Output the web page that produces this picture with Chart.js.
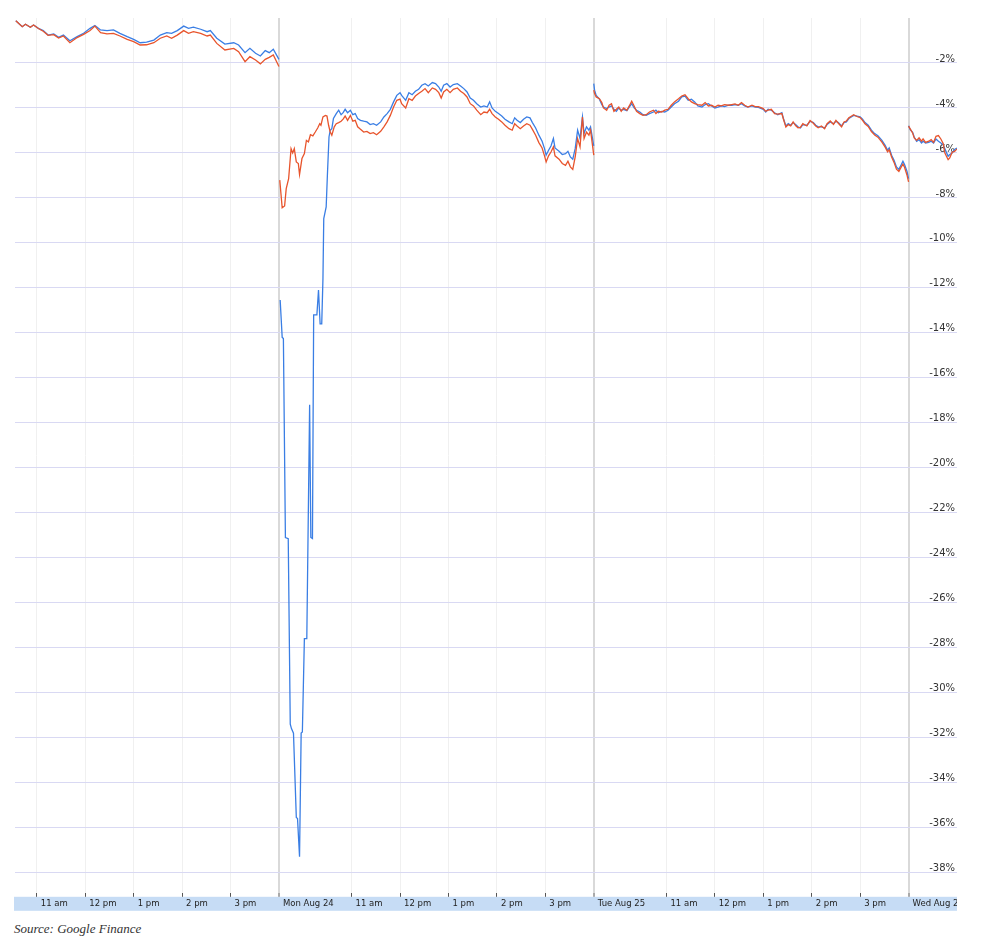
<!DOCTYPE html>
<html>
<head>
<meta charset="utf-8">
<script src="https://cdn.jsdelivr.net/npm/chart.js@4.4.1/dist/chart.umd.min.js"></script>
<style>
  html, body { margin: 0; padding: 0; background: #fff; }
  #wrap { position: relative; width: 986px; height: 939px; }
  #chart { position: absolute; left: 0; top: 0; }
  #source { position: absolute; left: 14px; top: 921px; font: italic 13px 'Liberation Serif', serif; color: #333; }
</style>
</head>
<body>
<div id="wrap">
  <canvas id="chart" width="957" height="911"></canvas>
  <div id="source">Source: Google Finance</div>
</div>
<script>
// x values are minutes since the 9:30 open of each trading day (390 min per session)
const sessionLength = 390

const tickValues = [90, 150, 210, 270, 330, 390, 480, 540, 600, 660, 720, 780, 870, 930, 990, 1050, 1110, 1170]
const tickLabels = ['11 am', '12 pm', '1 pm', '2 pm', '3 pm', 'Mon Aug 24', '11 am', '12 pm', '1 pm', '2 pm', '3 pm',
  'Tue Aug 25', '11 am', '12 pm', '1 pm', '2 pm', '3 pm', 'Wed Aug 26']
const dayTicks = [390, 780, 1170]

const yTicks = [-2, -4, -6, -8, -10, -12, -14, -16, -18, -20, -22, -24, -26, -28, -30, -32, -34, -36, -38]

// Fri Aug 21
const friTime = [64, 72, 76, 82, 86, 92, 98, 104, 111, 117, 123, 131, 140, 148, 156, 162, 169, 177, 185, 193, 202, 210, 218, 226,
  235, 243, 251, 257, 264, 272, 278, 284, 293, 301, 305, 313, 323, 334, 340, 348, 354, 361, 367, 373, 378, 383, 390]
const friBlue = [-0.12, -0.39, -0.28, -0.41, -0.31, -0.46, -0.56, -0.76, -0.71, -0.86, -0.76, -1.01, -0.83, -0.68, -0.46,
  -0.33, -0.53, -0.56, -0.53, -0.68, -0.83, -0.95, -1.10, -1.07, -0.98, -0.76, -0.65, -0.68, -0.56, -0.36,
  -0.46, -0.41, -0.50, -0.61, -0.56, -0.90, -1.16, -1.10, -1.20, -1.54, -1.35, -1.57, -1.69, -1.45, -1.54, -1.39, -1.84]
const friRed = [-0.12, -0.39, -0.28, -0.41, -0.31, -0.47, -0.59, -0.77, -0.74, -0.89, -0.80, -1.10, -0.87, -0.73, -0.56,
  -0.36, -0.65, -0.71, -0.68, -0.80, -0.95, -1.05, -1.20, -1.19, -1.10, -0.90, -0.80, -0.90, -0.76, -0.56,
  -0.68, -0.61, -0.68, -0.80, -0.76, -1.13, -1.42, -1.35, -1.50, -1.94, -1.72, -1.87, -2.04, -1.84, -1.75, -1.64, -2.16]

// Mon Aug 24, first hour (blue crash)
const monOpenBlueTime = [1.5, 4, 5.5, 8, 11.5, 14, 15.5, 18, 21.5, 23, 25.5, 27.5, 29, 31.5, 34.5, 38, 39.5, 41.5, 43, 47,
  49, 51, 53, 54.5, 55.5, 58.5, 60, 62, 63.5, 65.5, 67.5, 71, 74, 77, 79.5, 82, 85, 88.5, 91.5, 94.5, 97.5]
const monOpenBlue = [-12.54, -14.2, -14.25, -23.1, -23.15, -31.4, -31.6, -31.8, -35.55, -35.6, -37.3, -31.8, -31.75, -27.6, -27.6,
  -17.2, -23.1, -23.15, -13.2, -13.2, -12.1, -13.6, -13.6, -11.6, -8.92, -8.4, -7.0, -5.29, -4.99, -4.92,
  -4.47, -4.25, -4.10, -4.30, -4.21, -4.06, -4.21, -4.10, -4.30, -4.25, -4.47]
const monOpenRedTime = [1, 4, 7, 9, 12, 15, 17, 19, 21.5, 24, 25.5, 28.5, 31.5, 34, 36.5, 39, 42, 45, 48, 50.5,
  52, 54.5, 57.5, 59.5, 61.5, 63.5, 65.5, 68.5, 71, 74, 77, 79.5, 82, 85, 88.5, 91.5, 94.5, 97.5]
const monOpenRed = [-7.21, -8.44, -8.36, -7.59, -7.14, -5.81, -6.0, -5.81, -6.4, -6.47, -6.96, -6.25, -6.03, -5.44, -5.51,
  -5.19, -5.24, -5.07, -4.89, -4.70, -4.77, -4.40, -4.33, -4.36, -4.77, -5.07, -5.21, -4.84, -4.70, -4.65,
  -4.59, -4.50, -4.36, -4.55, -4.33, -4.59, -4.55, -4.84]

// Mon Aug 24, rest of the session
const monTime = [101, 105, 109, 113, 117, 121, 126, 130, 134, 138, 142, 146, 150, 152, 157, 161, 165, 169, 173, 177,
  181, 185, 190, 194, 198, 201, 204, 208, 212, 216, 221, 225, 229, 233, 237, 241, 245, 250, 254, 258,
  261, 264, 268, 272, 276, 280, 285, 289, 292, 295, 299, 303, 307, 311, 314, 318, 322, 326, 329, 331,
  334, 337, 340, 342, 347, 351, 355, 358, 361, 364, 367, 370, 373, 376, 378, 381, 384, 386, 390]
const monBlue = [-4.55, -4.59, -4.62, -4.74, -4.70, -4.77, -4.62, -4.40, -4.25, -4.06, -3.73, -3.44, -3.32, -3.44, -3.66,
  -3.32, -3.41, -3.26, -3.17, -2.99, -2.92, -3.02, -2.87, -2.92, -3.07, -3.26, -2.99, -2.92, -3.07, -2.96,
  -2.92, -3.02, -3.14, -3.29, -3.56, -3.66, -3.81, -3.96, -3.91, -3.96, -3.73, -4.00, -4.15, -4.25, -4.36,
  -4.50, -4.62, -4.70, -4.44, -4.55, -4.65, -4.50, -4.40, -4.44, -4.65, -4.89, -5.21, -5.48, -5.81, -6.10,
  -5.88, -5.69, -5.36, -5.78, -5.93, -6.07, -6.03, -5.93, -6.18, -6.28, -5.81, -4.99, -5.36, -4.40, -5.14,
  -4.84, -4.99, -4.84, -5.69]
const monRed = [-4.95, -5.07, -5.04, -5.14, -5.10, -5.19, -5.04, -4.84, -4.62, -4.33, -3.96, -3.66, -3.61, -3.81, -4.00,
  -3.59, -3.66, -3.47, -3.36, -3.26, -3.14, -3.32, -3.11, -3.17, -3.32, -3.56, -3.29, -3.17, -3.32, -3.17,
  -3.11, -3.26, -3.36, -3.51, -3.81, -3.91, -4.10, -4.30, -4.18, -4.21, -4.06, -4.25, -4.40, -4.50, -4.62,
  -4.77, -4.92, -4.99, -4.70, -4.80, -4.92, -4.80, -4.70, -4.77, -4.95, -5.21, -5.54, -5.78, -6.13, -6.40,
  -6.13, -5.96, -5.73, -6.13, -6.28, -6.47, -6.55, -6.37, -6.62, -6.73, -6.18, -5.36, -5.73, -4.40, -5.36,
  -5.07, -5.21, -4.99, -6.10]

// Tue Aug 25
const tueTime = [0, 1, 3, 7, 10, 12, 16, 19, 22, 25, 28, 31, 34, 37, 41, 44, 47, 50, 53, 57, 61, 65, 69, 74, 77,
  80, 84, 88, 92, 96, 100, 105, 109, 113, 117, 121, 125, 129, 134, 138, 142, 146, 150, 154, 158, 162, 167, 171,
  175, 179, 183, 187, 191, 196, 200, 204,
  210, 213, 216, 220, 224, 228, 233, 235, 238, 241, 244, 247, 250, 253, 256, 259, 264, 268, 272, 275, 278, 282,
  286, 289, 293, 297, 300, 303, 307, 310, 313, 316, 319, 322, 326, 330, 333, 336, 340, 344, 348, 352, 357, 361,
  364, 366, 369, 372, 375, 378, 381, 383, 385, 388, 390]
const tueBlue = [-2.92, -3.21, -3.44, -3.61, -3.85, -3.96, -4.03, -3.96, -3.91, -4.06, -4.15, -4.00, -4.10, -4.06, -4.12,
  -3.96, -3.81, -4.00, -4.10, -4.18, -4.30, -4.33, -4.25, -4.18, -4.10, -4.21, -4.15, -4.18, -4.10, -3.96,
  -3.81, -3.70, -3.51, -3.47, -3.66, -3.61, -3.73, -3.91, -3.96, -3.85, -3.81, -3.91, -4.00, -3.96, -3.91,
  -3.94, -3.88, -3.88, -3.85, -3.88, -3.81, -3.91, -3.96, -3.91, -3.96, -3.97,
  -4.06, -4.18, -4.06, -4.10, -4.21, -4.30, -4.21, -4.47, -4.80, -4.70, -4.77, -4.65, -4.74, -4.84, -4.89,
  -4.74, -4.77, -4.59, -4.65, -4.77, -4.84, -4.84, -4.89, -4.74, -4.62, -4.70, -4.59, -4.65, -4.80, -4.65,
  -4.62, -4.47, -4.40, -4.33, -4.36, -4.40, -4.50, -4.65, -4.77, -4.99, -5.14, -5.24, -5.44, -5.66, -5.88,
  -5.78, -6.10, -6.33, -6.62, -6.73, -6.52, -6.37, -6.52, -6.81, -7.14]
const tueRed = [-3.21, -3.36, -3.51, -3.59, -3.76, -4.00, -4.10, -3.88, -3.81, -4.15, -4.06, -3.96, -4.15, -4.00, -4.10,
  -3.91, -3.70, -3.91, -4.15, -4.25, -4.33, -4.30, -4.18, -4.10, -4.25, -4.15, -4.18, -4.10, -4.06, -3.88,
  -3.73, -3.59, -3.47, -3.41, -3.59, -3.73, -3.81, -3.85, -3.88, -3.76, -3.91, -3.88, -3.96, -3.88, -3.91,
  -3.85, -3.88, -3.85, -3.82, -3.88, -3.76, -3.88, -3.96, -3.88, -3.94, -3.94,
  -4.03, -4.15, -4.10, -4.06, -4.25, -4.27, -4.25, -4.50, -4.85, -4.74, -4.80, -4.62, -4.78, -4.88, -4.86,
  -4.70, -4.80, -4.56, -4.68, -4.80, -4.88, -4.80, -4.92, -4.70, -4.58, -4.73, -4.55, -4.68, -4.84, -4.62,
  -4.58, -4.44, -4.37, -4.30, -4.38, -4.43, -4.55, -4.70, -4.82, -5.05, -5.20, -5.30, -5.52, -5.74, -5.95,
  -5.86, -6.18, -6.42, -6.72, -6.82, -6.62, -6.50, -6.64, -6.98, -7.29]

// Wed Aug 26
const wedTime = [0, 2, 5, 7, 10, 13, 16, 18, 21, 25, 28, 31, 34, 37, 40, 43, 45, 49, 51, 54, 57, 60]
const wedBlue = [-4.79, -4.96, -5.08, -5.29, -5.48, -5.41, -5.56, -5.48, -5.56, -5.53, -5.48, -5.56, -5.38, -5.48, -5.56,
  -5.63, -5.82, -6.15, -6.07, -6.00, -5.85, -5.78]
const wedRed = [-4.81, -4.93, -5.11, -5.33, -5.44, -5.33, -5.48, -5.38, -5.53, -5.48, -5.41, -5.53, -5.26, -5.23, -5.38,
  -5.59, -6.00, -6.30, -6.22, -5.97, -5.93, -5.82]

function seg(day, times, values) {
  return times.map((t, i) => ({ x: day * sessionLength + t, y: values[i] }))
}
const gap = day => ({ x: day * sessionLength, y: null })

const blueData = [
  ...seg(0, friTime, friBlue), gap(1),
  ...seg(1, monOpenBlueTime, monOpenBlue), ...seg(1, monTime, monBlue), gap(2),
  ...seg(2, tueTime, tueBlue), gap(3),
  ...seg(3, wedTime, wedBlue),
]
const redData = [
  ...seg(0, friTime, friRed), gap(1),
  ...seg(1, monOpenRedTime, monOpenRed), ...seg(1, monTime, monRed), gap(2),
  ...seg(2, tueTime, tueRed), gap(3),
  ...seg(3, wedTime, wedRed),
]

// light blue strip behind the time labels
const axisBand = {
  id: 'axisBand',
  beforeDraw(chart) {
    const { ctx, chartArea } = chart
    ctx.save()
    ctx.fillStyle = '#c6dcf5'
    ctx.fillRect(chartArea.left - 1, chartArea.bottom + 4, chartArea.right - chartArea.left + 1, 14)
    ctx.restore()
  },
}

new Chart(document.getElementById('chart'), {
  type: 'line',
  data: {
    datasets: [
      {
        label: 'red',
        data: redData,
        borderColor: '#e8542c',
        borderWidth: 1.3,
        pointRadius: 0,
        tension: 0,
        spanGaps: false,
      },
      {
        label: 'blue',
        data: blueData,
        borderColor: '#3a7ee4',
        borderWidth: 1.3,
        pointRadius: 0,
        tension: 0,
        spanGaps: false,
      },
    ],
  },
  options: {
    responsive: false,
    animation: false,
    devicePixelRatio: 1,
    layout: { autoPadding: false, padding: { left: 15, top: 18, right: 0, bottom: 0 } },
    plugins: { legend: { display: false }, tooltip: { enabled: false } },
    scales: {
      x: {
        type: 'linear',
        min: 63,
        max: 1230,
        afterBuildTicks: scale => { scale.ticks = tickValues.map(v => ({ value: v })) },
        // the last date label runs off the edge and is cut there, as in the original
        afterFit: scale => { scale.paddingLeft = 0; scale.paddingRight = 0 },
        ticks: {
          autoSkip: false,
          maxRotation: 0,
          minRotation: 0,
          align: 'start',
          labelOffset: 4,
          padding: 2,
          color: '#222',
          font: { family: 'DejaVu Sans', size: 8.5 },
          callback: (val, i) => tickLabels[i],
        },
        grid: {
          color: ctx => dayTicks.includes(ctx.tick && ctx.tick.value) ? '#d9d9d9' : '#f0f0f0',
          lineWidth: ctx => dayTicks.includes(ctx.tick && ctx.tick.value) ? 2 : 1,
          tickColor: '#555',
          tickLength: 4,
          tickWidth: 1,
        },
        border: { display: false },
      },
      y: {
        position: 'right',
        min: -38.9,
        max: 0,
        afterBuildTicks: scale => { scale.ticks = yTicks.map(v => ({ value: v })) },
        afterFit: scale => { scale.width = 0 },
        ticks: {
          mirror: true,
          padding: 0,
          labelOffset: -4,
          color: '#333',
          font: { family: 'DejaVu Sans', size: 10 },
          callback: val => `${val}%\u2009`,
        },
        grid: { color: '#d9d9f3', lineWidth: 1, drawTicks: false },
        border: { display: false },
      },
    },
  },
  plugins: [axisBand],
})
</script>
</body>
</html>
